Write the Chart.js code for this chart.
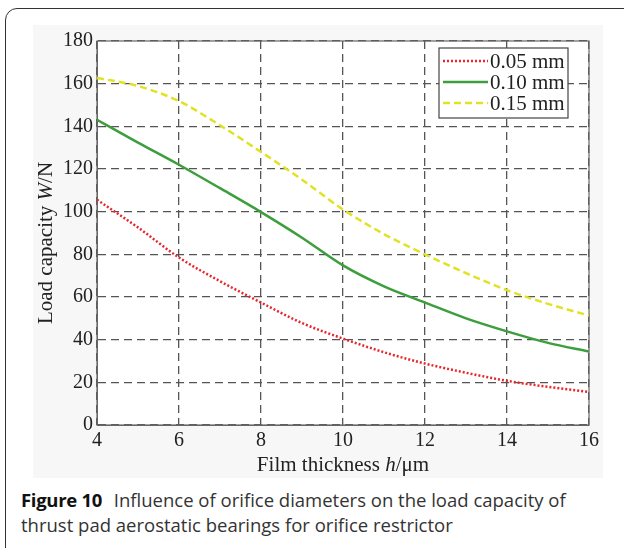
<!DOCTYPE html>
<html>
<head>
<meta charset="utf-8">
<script src="https://cdn.jsdelivr.net/npm/chart.js@4.4.1/dist/chart.umd.min.js"></script>
<style>
  body { margin: 0; background: #fff; width: 624px; height: 548px; overflow: hidden; position: relative; }
  #frame { position: absolute; left: 5px; top: 8px; width: 650px; height: 580px; border: 1.5px solid #333; border-radius: 12px; }
  #wrap { position: absolute; left: 33px; top: 25px; width: 570px; height: 453px; }
  #caption { position: absolute; left: 21px; top: 487px; width: 600px; font-family: "Open Sans", sans-serif; font-size: 18.5px; line-height: 25px; color: #333; white-space: nowrap; }
  #caption b { color: #111; font-weight: 700; margin-right: 7px; letter-spacing: -0.3px; }
</style>
</head>
<body>
<div id="frame"></div>
<div id="wrap"><canvas id="myChart" width="570" height="453"></canvas></div>
<div id="caption"><b>Figure 10</b> Influence of orifice diameters on the load capacity of<br>thrust pad aerostatic bearings for orifice restrictor</div>
<script>
// film thickness h (um) and load capacity W (N) per orifice diameter
var thickness = [4, 5, 6, 7, 8, 9, 10, 11, 12, 13, 14, 15, 16];
var load005 = [105.6, 92.6, 78.5, 67.4, 57.4, 47.8, 40.5, 34.1, 28.8, 24.5, 20.7, 17.9, 15.5];
var load010 = [143.1, 132.4, 122.0, 111.0, 99.8, 87.8, 74.8, 65.0, 57.4, 50.0, 43.9, 38.5, 34.4];
var load015 = [162.7, 158.9, 151.8, 140.5, 128.0, 115.0, 101.0, 89.5, 80.0, 71.2, 63.2, 56.8, 51.3];
var etiquetas = ['0.05 mm', '0.10 mm', '0.15 mm'];

var fuente = "'Liberation Serif', 'Times New Roman', serif";
var tituloX = [['Film thickness ', ''], ['h', 'italic '], ['/\u03bcm', '']];
var tituloY = [['Load capacity ', ''], ['W', 'italic '], ['/N', '']];

function puntos(valores) {
  var res = [];
  for (var i = 0; i < thickness.length; i++) {
    res.push({x: thickness[i], y: valores[i]});
  }
  return res;
}

// escribe un texto con partes en cursiva, centrado en (0,0)
function textoMixto(ctx, partes, size) {
  var total = 0;
  partes.forEach(function(p) {
    ctx.font = p[1] + size + 'px ' + fuente;
    total += ctx.measureText(p[0]).width;
  });
  var x = -total / 2;
  partes.forEach(function(p) {
    ctx.font = p[1] + size + 'px ' + fuente;
    ctx.fillText(p[0], x, 0);
    x += ctx.measureText(p[0]).width;
  });
}

// fondo gris, area blanca, marco y titulos de ejes
var marco = {
  id: 'marco',
  beforeDraw: function(chart) {
    var ctx = chart.ctx, a = chart.chartArea;
    ctx.save();
    ctx.fillStyle = '#f7f7f7';
    ctx.fillRect(0, 0, chart.width, chart.height);
    ctx.fillStyle = '#ffffff';
    ctx.fillRect(a.left, a.top, a.right - a.left, a.bottom - a.top);
    ctx.restore();
  },
  beforeDatasetsDraw: function(chart) {
    var ctx = chart.ctx, a = chart.chartArea;
    ctx.save();
    ctx.strokeStyle = '#666';
    ctx.lineWidth = 1.2;
    ctx.strokeRect(a.left, a.top, a.right - a.left, a.bottom - a.top);
    ctx.restore();
  },
  afterDraw: function(chart) {
    var ctx = chart.ctx, a = chart.chartArea;
    ctx.save();
    ctx.fillStyle = '#222';
    ctx.textBaseline = 'middle';
    ctx.translate((a.left + a.right) / 2, 440);
    textoMixto(ctx, tituloX, 21);
    ctx.restore();
    ctx.save();
    ctx.fillStyle = '#222';
    ctx.textBaseline = 'middle';
    ctx.translate(13, (a.top + a.bottom) / 2 + 10);
    ctx.rotate(-Math.PI / 2);
    textoMixto(ctx, tituloY, 21);
    ctx.restore();
  }
};

// leyenda dentro del area, arriba a la derecha
var leyenda = {
  id: 'leyenda',
  afterDraw: function(chart) {
    var ctx = chart.ctx, a = chart.chartArea;
    var x1 = a.right - 150, y1 = a.top + 7, w = 129, h = 70;
    ctx.save();
    ctx.fillStyle = '#fff';
    ctx.fillRect(x1, y1, w, h);
    ctx.strokeStyle = '#444';
    ctx.lineWidth = 1.2;
    ctx.strokeRect(x1, y1, w, h);
    ctx.font = '21px ' + fuente;
    ctx.textBaseline = 'middle';
    chart.data.datasets.forEach(function(ds, i) {
      var y = y1 + 13 + i * 21;
      ctx.strokeStyle = ds.borderColor;
      ctx.lineWidth = ds.borderWidth;
      ctx.setLineDash(ds.borderDash || []);
      ctx.beginPath();
      ctx.moveTo(x1 + 4, y);
      ctx.lineTo(x1 + 49, y);
      ctx.stroke();
      ctx.setLineDash([]);
      ctx.fillStyle = '#222';
      ctx.fillText(ds.label, x1 + 51, y + 1);
    });
    ctx.restore();
  }
};

var ctx = document.getElementById('myChart').getContext('2d');
var chart = new Chart(ctx, {
  type: 'line',
  data: {
    datasets: [{
      label: etiquetas[0],
      data: puntos(load005),
      borderColor: '#e8262b',
      borderWidth: 2.5,
      borderDash: [2, 2],
      pointRadius: 0,
      cubicInterpolationMode: 'monotone'
    }, {
      label: etiquetas[1],
      data: puntos(load010),
      borderColor: '#3c9e3c',
      borderWidth: 2.5,
      pointRadius: 0,
      cubicInterpolationMode: 'monotone'
    }, {
      label: etiquetas[2],
      data: puntos(load015),
      borderColor: '#e2e224',
      borderWidth: 2.5,
      borderDash: [7, 4],
      pointRadius: 0,
      cubicInterpolationMode: 'monotone'
    }]
  },
  options: {
    responsive: false,
    animation: false,
    layout: {padding: {left: 0, top: 8, right: 10, bottom: 0}},
    plugins: {legend: {display: false}, tooltip: {enabled: false}},
    scales: {
      x: {
        type: 'linear',
        min: 4, max: 16,
        afterFit: function(s) { s.height = 53; },
        ticks: {stepSize: 2, color: '#222', padding: 4, font: {family: fuente, size: 20}},
        grid: {color: '#555', lineWidth: 1.3, drawTicks: false},
        border: {color: '#666', dash: [8, 5]}
      },
      y: {
        min: 0, max: 180,
        afterFit: function(s) { s.width = 64; },
        ticks: {stepSize: 20, color: '#222', padding: 4, font: {family: fuente, size: 20}},
        grid: {color: '#555', lineWidth: 1.3, drawTicks: false},
        border: {color: '#666', dash: [8, 5]}
      }
    }
  },
  plugins: [marco, leyenda]
});
</script>
</body>
</html>
